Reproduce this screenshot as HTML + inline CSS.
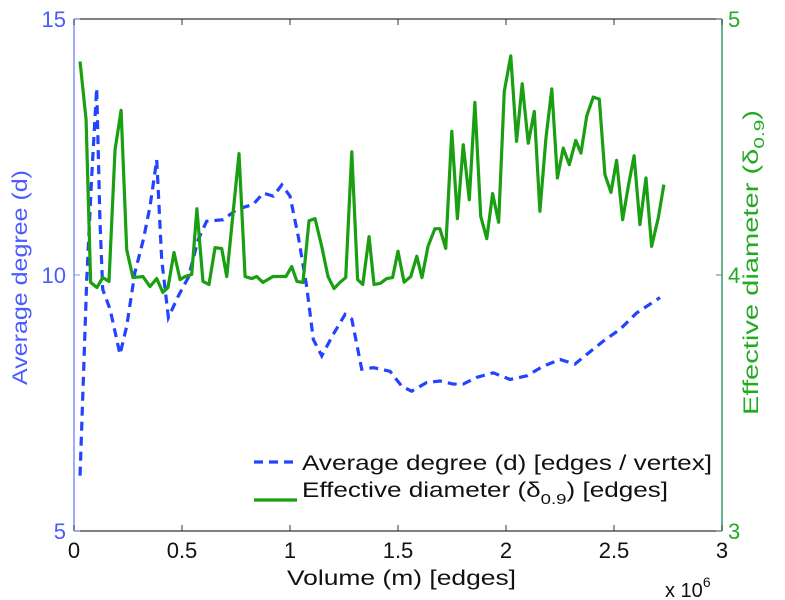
<!DOCTYPE html>
<html><head><meta charset="utf-8">
<style>
body{margin:0;background:#fff;}
svg{display:block;font-family:"Liberation Sans",sans-serif;}
</style></head>
<body>
<svg id="chart" width="785" height="600" viewBox="0 0 785 600">
  <rect x="0" y="0" width="785" height="600" fill="#fff"/>
  <g id="plot"></g>
</svg>
<script>
const degX = [0.028,0.059,0.082,0.105,0.12,0.133,0.167,0.213,0.244,0.282,0.321,0.352,0.383,0.406,0.437,0.483,0.529,0.575,0.614,0.691,0.753,0.83,0.876,0.923,0.962,1.0,1.038,1.077,1.108,1.147,1.2,1.255,1.286,1.332,1.386,1.463,1.517,1.563,1.633,1.694,1.756,1.802,1.864,1.941,2.019,2.096,2.173,2.25,2.319,2.374,2.451,2.528,2.605,2.713];
const degY = [6.08,9.91,11.93,13.65,11.08,9.72,9.33,8.45,9.0,10.05,10.69,11.34,12.25,10.3,9.17,9.59,9.95,10.69,11.05,11.08,11.28,11.38,11.6,11.54,11.76,11.54,10.76,9.78,8.74,8.42,8.84,9.23,9.14,8.16,8.19,8.12,7.83,7.73,7.9,7.93,7.87,7.87,8.0,8.09,7.96,8.03,8.22,8.35,8.26,8.45,8.71,8.94,9.26,9.56];
const diaX = [0.028,0.056,0.077,0.106,0.133,0.162,0.19,0.218,0.244,0.273,0.319,0.352,0.383,0.411,0.435,0.463,0.491,0.514,0.545,0.569,0.597,0.625,0.653,0.684,0.707,0.764,0.792,0.823,0.846,0.875,0.921,0.981,1.008,1.032,1.06,1.088,1.116,1.147,1.176,1.204,1.231,1.258,1.286,1.313,1.337,1.366,1.389,1.417,1.448,1.475,1.5,1.528,1.559,1.587,1.611,1.639,1.671,1.694,1.721,1.749,1.775,1.802,1.83,1.856,1.883,1.911,1.938,1.966,1.992,2.022,2.049,2.075,2.103,2.131,2.157,2.185,2.212,2.238,2.265,2.293,2.323,2.347,2.374,2.404,2.432,2.458,2.486,2.512,2.54,2.566,2.593,2.62,2.648,2.674,2.705,2.731];
const diaY = [4.834,4.606,3.971,3.951,3.99,3.975,4.489,4.643,4.099,3.99,3.994,3.955,3.986,3.932,3.951,4.088,3.982,3.994,4.002,4.259,3.975,3.963,4.107,4.103,3.994,4.474,3.994,3.986,3.994,3.971,3.994,3.994,4.033,3.975,3.971,4.212,4.22,4.111,3.994,3.947,3.971,3.99,4.481,3.982,3.963,4.15,3.963,3.967,3.986,3.99,4.093,3.972,3.994,4.073,3.99,4.112,4.181,4.181,4.104,4.561,4.22,4.509,4.294,4.674,4.229,4.142,4.318,4.206,4.717,4.856,4.522,4.747,4.515,4.639,4.249,4.535,4.727,4.379,4.496,4.431,4.526,4.476,4.622,4.695,4.687,4.392,4.323,4.448,4.216,4.346,4.466,4.197,4.379,4.112,4.223,4.353];
const xTicks = [0,0.5,1,1.5,2,2.5,3];
const xTickLabels = ["0","0.5","1","1.5","2","2.5","3"];
const leftTicks = [5,10,15];
const rightTicks = [3,4,5];

const L=74,R=722,T=19,B=531;
const X=v=>L+(v/3)*(R-L);
const YL=v=>B-(v-5)/10*(B-T);
const YR=v=>B-(v-3)/2*(B-T);
const NS="http://www.w3.org/2000/svg";
const g=document.getElementById('plot');
function mk(tag,attrs,parent){const e=document.createElementNS(NS,tag);for(const k in attrs)e.setAttribute(k,attrs[k]);(parent||g).appendChild(e);return e;}

let e;
e=mk('line',{x1:L,y1:T,x2:R,y2:T,stroke:'#333','stroke-width':1.2});


e=mk('line',{x1:L,y1:B,x2:R,y2:B,stroke:'#333','stroke-width':1.2});


e=mk('line',{x1:L,y1:T,x2:L,y2:B,stroke:'#8090ff','stroke-width':1.5});


e=mk('line',{x1:R,y1:T,x2:R,y2:B,stroke:'#3a9a6a','stroke-width':1.5});



xTicks.forEach((t,i)=>{
  const x=X(t);
  let a=mk('line',{x1:x,y1:B,x2:x,y2:B-6,stroke:'#333'});
  
  
  a=mk('line',{x1:x,y1:T,x2:x,y2:T+6,stroke:'#333'});
  
  
  const tx=mk('text',{x:x,y:B+27,'text-anchor':'middle','font-size':22,fill:'#111'});
  tx.textContent=xTickLabels[i];
  
  
});
leftTicks.forEach(t=>{
  const y=YL(t);
  let a=mk('line',{x1:L,y1:y,x2:L+6,y2:y,stroke:'#8090ff'});
  
  
  const tx=mk('text',{x:L-8,y:y+8,'text-anchor':'end','font-size':22,fill:'#4a5cff'});
  tx.textContent=String(t);
  
  
});
rightTicks.forEach(t=>{
  const y=YR(t);
  let a=mk('line',{x1:R-6,y1:y,x2:R,y2:y,stroke:'#3a9a6a'});
  
  
  const tx=mk('text',{x:R+6,y:y+8,'text-anchor':'start','font-size':22,fill:'#22aa22'});
  tx.textContent=String(t);
  
  
});

const degPts=degX.map((x,i)=>X(x)+','+YL(degY[i])).join(' ');
e=mk('polyline',{points:degPts,fill:'none',stroke:'#2244ff','stroke-width':3.2,'stroke-dasharray':'9,6'});


const diaPts=diaX.map((x,i)=>X(x)+','+YR(diaY[i])).join(' ');
e=mk('polyline',{points:diaPts,fill:'none',stroke:'#1a9e12','stroke-width':3.2,'stroke-linejoin':'round'});


</script>
<div style="position:absolute;left:0;top:0;width:785px;height:600px;pointer-events:none;">
<svg width="785" height="600" style="font-family:'Liberation Sans',sans-serif;">
  <text x="287" y="585" font-size="21" textLength="229" lengthAdjust="spacingAndGlyphs" fill="#111">Volume (m) [edges]</text>
  <text x="665" y="597" font-size="20" fill="#111">x 10<tspan dy="-10" font-size="14">6</tspan></text>
  <text transform="translate(27,385) rotate(-90)" font-size="21" textLength="215" lengthAdjust="spacingAndGlyphs" fill="#4a5cff">Average degree (d)</text>
  <text transform="translate(758,415) rotate(-90)" font-size="21" textLength="305" lengthAdjust="spacingAndGlyphs" fill="#22aa22">Effective diameter (δ<tspan dy="6" font-size="15">0.9</tspan><tspan dy="-6">)</tspan></text>
  <g>
    <line x1="254" y1="462" x2="297" y2="462" stroke="#2244ff" stroke-width="3.2" stroke-dasharray="9,6"/>
    <text x="302" y="470" font-size="21" textLength="410" lengthAdjust="spacingAndGlyphs" fill="#111">Average degree (d) [edges / vertex]</text>
    <line x1="254" y1="500" x2="297" y2="500" stroke="#1a9e12" stroke-width="3.2"/>
    <text x="302" y="497" font-size="21" textLength="366" lengthAdjust="spacingAndGlyphs" fill="#111">Effective diameter (δ<tspan dy="7" font-size="15">0.9</tspan><tspan dy="-7">) [edges]</tspan></text>
  </g>
</svg>
</div>
</body></html>
